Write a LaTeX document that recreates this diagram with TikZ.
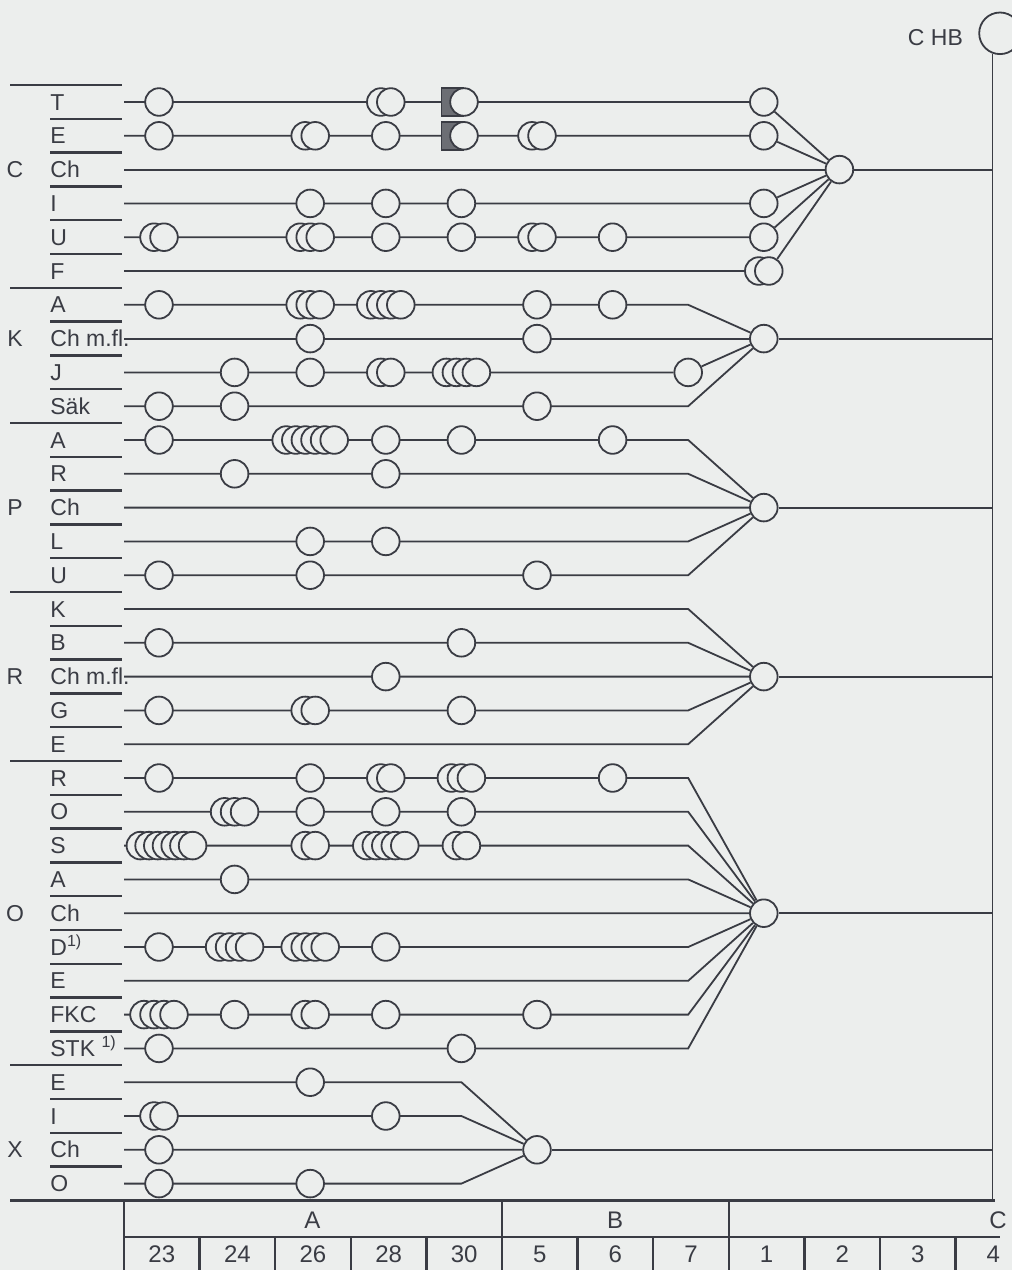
\documentclass[tikz,border=0pt]{standalone}
\usepackage{fontspec}
\setmainfont{Liberation Sans}
\usepackage{xcolor}
\usetikzlibrary{positioning}
\definecolor{Paper}{RGB}{236, 238, 237}
\definecolor{Ink}{RGB}{58, 60, 68}
\definecolor{Shade}{RGB}{108, 110, 116}
\pgfdeclarelayer{paper}
\pgfdeclarelayer{wires}
\pgfsetlayers{paper,wires,main}
\tikzset{
    ring/.style={circle, draw=Ink, fill=Paper, line width=0.9pt, minimum size=13.8pt, inner sep=0pt},
    hub/.style={ring},
    shadebox/.style={rectangle, draw=Ink, fill=Shade, line width=0.9pt, minimum width=11pt, minimum height=13.8pt, inner sep=0pt},
    wire/.style={draw=Ink, line width=0.9pt},
    grid/.style={draw=Ink, line width=1.15pt},
    rowlabel/.style={font=\fontsize{11.5}{13}\selectfont, text=Ink, inner sep=0pt, anchor=base west},
    grouplabel/.style={font=\fontsize{11.5}{13}\selectfont, text=Ink, inner sep=0pt, anchor=base},
    cell/.style={font=\fontsize{12}{14}\selectfont, text=Ink, inner sep=0pt, anchor=base},
}
\newcommand{\ringset}[5][10]{%
    \foreach \k in {1,...,#5}
        \node[ring] (ring-#2-\k) at ({#3+(\k-(#5+1)/2)*#1},{#4}) {};%
}

\begin{document}
\begin{tikzpicture}[x=0.5pt, y=-0.5pt]
    \useasboundingbox (0,0) rectangle (1012,1270);
    \begin{pgfonlayer}{paper}
        \fill[Paper] (0,0) rectangle (1012,1270);
    \end{pgfonlayer}

    \foreach \i/\t in {0/T, 1/E, 2/Ch, 3/I, 4/U, 5/F, 6/A, 7/{Ch m.fl.}, 8/J, 9/Säk,
        10/A, 11/R, 12/Ch, 13/L, 14/U, 15/K, 16/B, 17/{Ch m.fl.}, 18/G, 19/E,
        20/R, 21/O, 22/S, 23/A, 24/Ch, 25/{D\textsuperscript{1)}}, 26/E, 27/FKC,
        28/{STK \textsuperscript{1)}}, 29/E, 30/I, 31/Ch, 32/O}{
        \coordinate (r\i) at (124,{102+33.8*\i});
        \node[rowlabel] (lbl\i) at (50,{110+33.8*\i}) {\t};
    }
    \foreach \i in {1,2,3,4,5,7,8,9,11,12,13,14,16,17,18,19,21,22,23,24,25,26,27,28,30,31,32}
        \draw[grid] (50,{85+33.8*\i}) -- (122,{85+33.8*\i});
    \foreach \i in {0,6,10,15,20,29}
        \draw[grid] (10,{85+33.8*\i}) -- (122,{85+33.8*\i});
    \foreach \g/\i in {C/2, K/7, P/12, R/17, O/24, X/31}
        \node[grouplabel] (grp\g) at (15,{110+33.8*\i}) {\g};

    \node[hub] (hubC) at (839.4,169.6) {};
    \node[hub] (hubK) at (763.8,338.6) {};
    \node[hub] (hubP) at (763.8,507.6) {};
    \node[hub] (hubR) at (763.8,676.6) {};
    \node[hub] (hubO) at (763.8,913.2) {};
    \node[hub] (hubX) at (537,1149.8) {};
    \node[ring, minimum size=20.8pt] (hubHB) at (1000,33.3) {};
    \node[grouplabel, left=7.5pt of hubHB, yshift=-2.3pt] (hbLabel) {C HB};

    \node[shadebox] (mark0) at (452.5,102) {};
    \node[ring] (ring-0-4-1) at (464,102) {};
    \node[shadebox] (mark1) at (452.5,135.8) {};
    \node[ring] (ring-1-4-1) at (464,135.8) {};

    \foreach \i/\c/\n in {0/0/1, 0/3/2, 0/8/1,
        1/0/1, 1/2/2, 1/3/1, 1/5/2, 1/8/1,
        3/2/1, 3/3/1, 3/4/1, 3/8/1,
        4/0/2, 4/2/3, 4/3/1, 4/4/1, 4/5/2, 4/6/1, 4/8/1,
        5/8/2,
        6/0/1, 6/2/3, 6/3/4, 6/5/1, 6/6/1,
        7/2/1, 7/5/1,
        8/1/1, 8/2/1, 8/3/2, 8/4/4, 8/7/1,
        9/0/1, 9/1/1, 9/5/1,
        10/0/1, 10/3/1, 10/4/1, 10/6/1,
        11/1/1, 11/3/1,
        13/2/1, 13/3/1,
        14/0/1, 14/2/1, 14/5/1,
        16/0/1, 16/4/1,
        17/3/1,
        18/0/1, 18/2/2, 18/4/1,
        20/0/1, 20/2/1, 20/3/2, 20/4/3, 20/6/1,
        21/1/3, 21/2/1, 21/3/1, 21/4/1,
        22/2/2, 22/4/2,
        23/1/1,
        25/0/1, 25/1/4, 25/2/4, 25/3/1,
        27/0/4, 27/1/1, 27/2/2, 27/3/1, 27/5/1,
        28/0/1, 28/4/1,
        29/2/1,
        30/0/2, 30/3/1,
        31/0/1,
        32/0/1, 32/2/1}{
        \ringset{\i-\c}{159+75.6*\c}{102+33.8*\i}{\n}
    }
    \ringset[9.6]{10-2}{310.2}{440}{6}
    \ringset[9.5]{22-3}{385.8}{845.6}{5}
    \ringset[8.7]{22-0}{166.5}{845.6}{7}

    \coordinate (bend) at (688.2,0);
    \coordinate (bendX) at (461.4,0);
    \coordinate (busx) at (hubHB.-110);
    \coordinate (tabletop) at (0,1200.4);

    \begin{pgfonlayer}{wires}
        \foreach \i in {0,1,3,4}
            \draw[wire] (r\i) -- (ring-\i-8-1) -- (hubC);
        \draw[wire] (r5) -- (ring-5-8-2) -- (hubC);
        \draw[wire] (r2) -- (hubC);
        \foreach \i in {6,9}
            \draw[wire] (r\i) -- (r\i -| bend) -- (hubK);
        \draw[wire] (r7) -- (hubK);
        \draw[wire] (r8) -- (ring-8-7-1) -- (hubK);
        \foreach \i in {10,11,13,14}
            \draw[wire] (r\i) -- (r\i -| bend) -- (hubP);
        \draw[wire] (r12) -- (hubP);
        \foreach \i in {15,16,18,19}
            \draw[wire] (r\i) -- (r\i -| bend) -- (hubR);
        \draw[wire] (r17) -- (hubR);
        \foreach \i in {20,21,22,23,25,26,27,28}
            \draw[wire] (r\i) -- (r\i -| bend) -- (hubO);
        \draw[wire] (r24) -- (hubO);
        \foreach \i in {29,30,32}
            \draw[wire] (r\i) -- (r\i -| bendX) -- (hubX);
        \draw[wire] (r31) -- (hubX);
        \foreach \h in {C,K,P,R,O,X}
            \draw[wire] (hub\h) -- (hub\h -| busx);
        \draw[wire] (busx) -- (busx |- tabletop);
    \end{pgfonlayer}

    \draw[grid] (10,1200.4) -- (995,1200.4);
    \draw[grid] (124,1237) -- (1000,1237);
    \foreach \k in {0,5,8}
        \draw[grid] ({124+75.6*\k},1200.4) -- ({124+75.6*\k},1270);
    \foreach \k in {1,2,3,4,6,7,9,10,11}
        \draw[grid] ({124+75.6*\k},1237) -- ({124+75.6*\k},1270);
    \node[cell] (headA) at (312.5,1228) {A};
    \node[cell] (headB) at (615,1228) {B};
    \node[cell] (headC) at (998,1228) {C};
    \foreach \k/\t in {0/23, 1/24, 2/26, 3/28, 4/30, 5/5, 6/6, 7/7, 8/1, 9/2, 10/3, 11/4}
        \node[cell] (num\k) at ({161.8+75.6*\k},1262) {\t};
\end{tikzpicture}
\end{document}
